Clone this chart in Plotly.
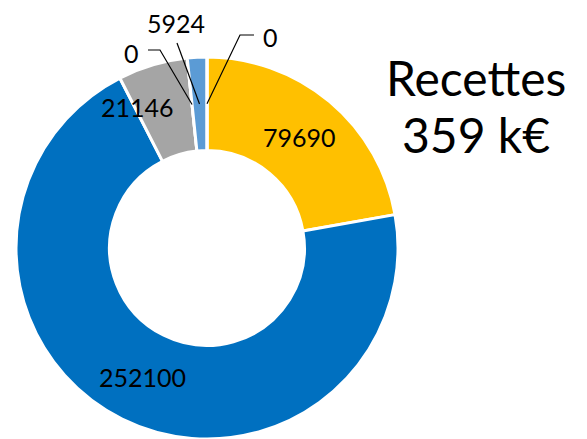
"""Donut chart: Recettes 359 k€."""
import math
import plotly.graph_objects as go

# data (clockwise from 12 o'clock)
slice_names = ["A", "B", "C", "D", "E", "F"]
slice_values = [79690, 252100, 21146, 0, 5924, 0]
slice_colors = ["#FFC000", "#0070C0", "#A5A5A5", "#ED7D31", "#5B9BD5", "#70AD47"]
title_lines = ["Recettes", "359 k€"]

OFF = 8                      # page body margin
W, H = 587 - OFF, 439 - OFF
CX, CY, R = 207, 248, 191    # pie centre / radius in screen pixels
HOLE = 0.51
FONT = "Lato"

total = sum(slice_values)


def to_paper(x, y):
    return (x - OFF) / W, 1 - (y - OFF) / H


def anchor(i, r):
    """point at radius r on the middle angle of slice i (screen pixels)"""
    start = sum(slice_values[:i]) / total * 2 * math.pi
    mid = start + slice_values[i] / total * math.pi
    return CX + r * math.sin(mid), CY - r * math.cos(mid)


x0, _ = to_paper(CX - R, 0)
x1, _ = to_paper(CX + R, 0)
_, y0 = to_paper(0, CY + R)
_, y1 = to_paper(0, CY - R)

fig = go.Figure(go.Pie(
    labels=slice_names,
    values=slice_values,
    sort=False,
    direction="clockwise",
    rotation=0,
    hole=HOLE,
    marker=dict(colors=slice_colors, line=dict(color="white", width=3)),
    textinfo="none",
    domain=dict(x=[x0, x1], y=[y0, y1]),
    showlegend=False,
))

annotations = []
shapes = []
r_mid = R * (1 + HOLE) / 2


def label(text, x, y, size=25):
    px, py = to_paper(x, y)
    annotations.append(dict(x=px, y=py, xref="paper", yref="paper",
                            xanchor="center", yanchor="middle",
                            text=text, showarrow=False,
                            font=dict(family=FONT, size=size, color="black")))


# big slices: label in the middle of the ring
for i in (0, 1):
    label(str(slice_values[i]), *anchor(i, r_mid))

# small slices: labels moved out (Excel "best fit" style)
label_px = {2: (137, 107), 3: (131, 53), 4: (176, 23), 5: (270, 37)}
for i, (lx, ly) in label_px.items():
    label(str(slice_values[i]), lx, ly)

# leader lines
leaders = {
    3: [(148, 50), (160, 50)],
    4: [(177, 43)],
    5: [(254, 35), (240, 35)],
}
for i, pts in leaders.items():
    ax, ay = anchor(i, r_mid)
    pts = pts + [(ax, ay)]
    path = "M " + " L ".join("%f,%f" % to_paper(x, y) for x, y in pts)
    shapes.append(dict(type="path", path=path, xref="paper", yref="paper",
                       line=dict(color="black", width=1.2)))

for text, ty in zip(title_lines, [77, 134]):
    label(text, 476, ty, size=48)

fig.update_layout(
    width=W, height=H,
    margin=dict(l=0, r=0, t=0, b=0),
    paper_bgcolor="white",
    plot_bgcolor="white",
    annotations=annotations,
    shapes=shapes,
)

fig.write_html("out.html")
